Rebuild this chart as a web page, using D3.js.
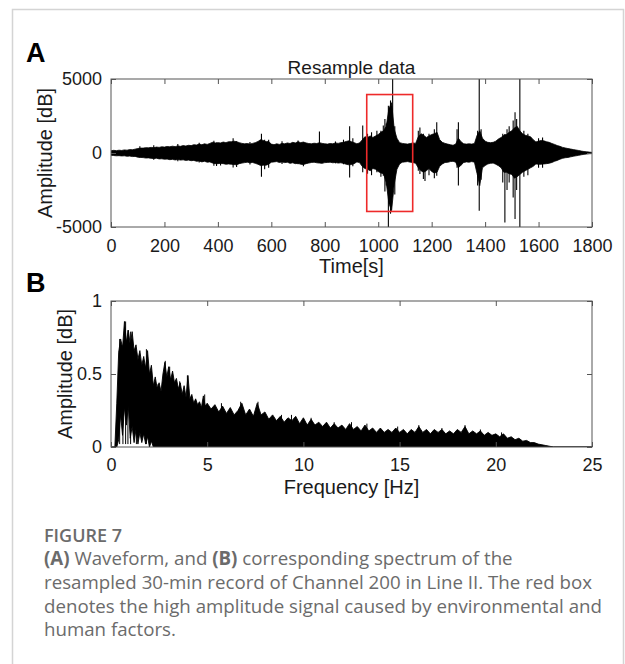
<!DOCTYPE html>
<html><head><meta charset="utf-8">
<script src="https://cdn.jsdelivr.net/npm/d3@7"></script>
<style>body{margin:0;background:#fff}svg{display:block}</style>
</head><body>
<svg id="c" width="625" height="664"></svg>
<script>
// ---------- DATA ----------
// Panel A: waveform envelope: [time s, upper, lower]
const waveEnvelope = [
[0,150,-150],[10,180,-170],[20,160,-190],[30,190,-180],[40,170,-200],[50,210,-190],[60,190,-220],[70,230,-210],[80,220,-240],[90,260,-230],
[100,300,-280],[110,330,-300],[120,330,-310],[130,360,-340],[140,350,-330],[150,380,-360],[160,360,-380],[170,400,-350],[180,380,-400],[190,420,-390],
[200,400,-420],[210,440,-410],[220,420,-450],[230,460,-430],[240,430,-470],[250,480,-440],[260,450,-480],[270,500,-460],[280,470,-500],[290,520,-480],
[300,500,-520],[310,560,-500],[320,540,-560],[330,600,-540],[340,560,-600],[350,620,-560],[360,580,-620],[370,650,-600],[380,720,-680],[390,680,-720],
[400,700,-720],[410,680,-700],[420,740,-720],[430,700,-760],[440,760,-740],[450,760,-760],[460,800,-780],[470,760,-800],[480,700,-720],[490,650,-680],
[500,620,-650],[510,640,-620],[520,600,-660],[530,650,-640],[540,700,-700],[550,780,-760],[560,900,-850],[570,850,-820],[580,760,-820],[590,780,-760],
[600,600,-620],[610,560,-600],[620,620,-580],[630,580,-640],[640,650,-600],[650,620,-650],[660,680,-620],[670,640,-700],[680,720,-660],[690,680,-720],
[700,760,-700],[710,700,-760],[720,740,-780],[730,680,-720],[740,640,-680],[750,620,-640],[760,660,-620],[770,640,-660],[780,700,-680],[790,650,-700],
[800,620,-650],[810,600,-640],[820,640,-620],[830,620,-660],[840,680,-640],[850,650,-680],[860,700,-660],[870,720,-700],[880,780,-760],[890,820,-800],
[900,760,-780],[910,700,-720],[920,620,-600],[930,680,-650],[940,880,-900],[950,1100,-1050],[960,1050,-1100],[970,1150,-1200],[980,1050,-1050],[990,1150,-1100],
[1000,1250,-1250],[1010,1400,-1350],[1020,1500,-1400],[1030,1800,-2000],[1040,3000,-3400],[1050,3400,-3900],[1060,1600,-2100],[1070,1000,-1100],[1080,700,-740],[1090,650,-620],
[1100,620,-600],[1110,600,-580],[1120,640,-620],[1130,680,-640],[1140,650,-700],[1150,1100,-1000],[1160,1300,-1200],[1170,1200,-1300],[1180,1050,-1200],[1190,1150,-1050],
[1200,1250,-1250],[1210,1300,-1350],[1220,1400,-1300],[1230,900,-900],[1240,720,-740],[1250,650,-640],[1260,600,-630],[1270,560,-580],[1280,520,-560],[1290,600,-620],
[1300,1000,-1000],[1310,760,-820],[1320,620,-640],[1330,600,-600],[1340,620,-620],[1350,600,-580],[1360,640,-620],[1370,1200,-1400],[1380,1500,-2200],[1390,1000,-1000],
[1400,800,-850],[1410,720,-740],[1420,700,-700],[1430,720,-680],[1440,800,-760],[1450,950,-860],[1460,1050,-1000],[1470,1200,-1300],[1480,1250,-1300],[1490,1400,-1400],
[1500,1500,-1450],[1510,1700,-1700],[1520,1800,-1600],[1530,1500,-1450],[1540,1300,-1300],[1550,1200,-1200],[1560,1150,-1100],[1570,1100,-1000],[1580,900,-900],[1590,750,-740],
[1600,800,-760],[1610,850,-760],[1620,820,-740],[1630,760,-720],[1640,720,-690],[1650,640,-640],[1660,580,-560],[1670,500,-500],[1680,450,-420],[1690,380,-360],
[1700,340,-320],[1710,300,-300],[1720,270,-260],[1730,230,-220],[1740,200,-190],[1750,170,-160],[1760,130,-120],[1770,100,-90],[1780,80,-70],[1790,60,-50],
[1800,40,-40]
];
// Thin spikes reaching beyond the envelope: [time s, low, high]
const waveSpikes = [
[108,-300,450],[160,-450,520],[250,-560,600],[330,-650,700],[385,-860,830],[395,-880,700],[410,-850,650],
[457,-980,1000],[470,-950,800],[520,-780,750],[563,-1600,1300],[575,-1100,900],[590,-1000,900],[640,-750,800],
[700,-760,850],[720,-900,700],[780,-600,1450],[840,-700,780],[870,-760,900],[893,-1650,1800],[905,-900,1000],
[942,-1300,1850],[960,-1400,1300],[975,-1500,1400],[995,-1300,1500],[1010,-1600,1500],[1019,-1530,1850],
[1025,-2600,2300],[1030,-2200,2000],[1038,-5000,3200],[1046,-4100,3550],[1054,-2000,5000],[1062,-2800,1800],
[1150,-1200,1500],[1156,-1420,1730],[1169,-1760,1300],[1175,-1900,1000],[1190,-1500,1300],[1210,-1700,1600],
[1219,-1530,2070],[1295,-1000,1600],[1300,-2200,2070],[1372,-2200,1500],[1378,-3900,5000],[1385,-1800,1600],
[1466,-2000,1300],[1474,-4700,1280],[1482,-2500,1600],[1490,-2000,1800],[1505,-3000,2200],[1512,-4460,2750],
[1518,-2500,2300],[1530,-5000,5000],[1545,-1600,1500],[1560,-1500,1300],[1600,-1000,1000],[1615,-1000,1050]
];
// Red box (time range, amplitude range)
const boxTime = [957, 1129];
const boxAmp = [-3950, 3950];
const waveXTicks = [0,200,400,600,800,1000,1200,1400,1600,1800];
const waveYTicks = [-5000,0,5000];
const waveYTickLabels = ["-5000","0","5000"];

// Panel B: spectrum envelope: [freq Hz, upper, lower]
const spectrum = [
[0,0,0],[0.1,0,0],[0.2,0,0],[0.3,0.30,0],[0.4,0.65,0.05],[0.5,0.74,0.22],[0.6,0.68,0.08],[0.7,0.86,0.27],[0.8,0.72,0.15],[0.9,0.80,0.28],
[1.0,0.70,0.06],[1.1,0.79,0.14],[1.2,0.66,0.03],[1.3,0.70,0.12],[1.4,0.60,0.02],[1.5,0.66,0.10],[1.6,0.56,0.03],[1.7,0.62,0.09],[1.8,0.54,0.02],[1.9,0.66,0.07],
[2.0,0.50,0],[2.1,0.56,0.04],[2.2,0.42,0],[2.3,0.48,0],[2.4,0.40,0],[2.5,0.44,0],[2.6,0.38,0],[2.7,0.50,0],[2.8,0.58,0],[2.9,0.48,0],
[3.0,0.55,0],[3.1,0.46,0],[3.2,0.52,0],[3.3,0.44,0],[3.4,0.47,0],[3.5,0.40,0],[3.6,0.44,0],[3.7,0.36,0],[3.8,0.42,0],[3.9,0.34,0],
[4.0,0.49,0],[4.1,0.33,0],[4.2,0.36,0],[4.3,0.30,0],[4.4,0.33,0],[4.5,0.29,0],[4.6,0.31,0],[4.7,0.27,0],[4.8,0.35,0],[4.9,0.28,0],
[5.0,0.30,0],[5.2,0.26,0],[5.4,0.29,0],[5.6,0.24,0],[5.8,0.28,0],[6.0,0.23,0],[6.2,0.27,0],[6.4,0.22,0],[6.6,0.25,0],[6.8,0.30,0],
[7.0,0.22,0],[7.2,0.26,0],[7.4,0.21,0],[7.6,0.30,0],[7.8,0.22,0],[8.0,0.24,0],[8.2,0.19,0],[8.4,0.22,0],[8.6,0.18,0],[8.8,0.21,0],
[9.0,0.17,0],[9.2,0.20,0],[9.4,0.18,0],[9.6,0.21,0],[9.8,0.16,0],[10.0,0.20,0],[10.2,0.15,0],[10.4,0.19,0],[10.6,0.15,0],[10.8,0.17,0],
[11.0,0.14,0],[11.2,0.17,0],[11.4,0.13,0],[11.6,0.16,0],[11.8,0.13,0],[12.0,0.15,0],[12.2,0.12,0],[12.4,0.16,0],[12.6,0.12,0],[12.8,0.14,0],
[13.0,0.11,0],[13.2,0.15,0],[13.4,0.11,0],[13.6,0.13,0],[13.8,0.10,0],[14.0,0.13,0],[14.2,0.10,0],[14.4,0.12,0],[14.6,0.10,0],[14.8,0.13,0],
[15.0,0.10,0],[15.2,0.12,0],[15.4,0.09,0],[15.6,0.12,0],[15.8,0.10,0],[16.0,0.14,0],[16.2,0.10,0],[16.4,0.12,0],[16.6,0.09,0],[16.8,0.12,0],
[17.0,0.10,0],[17.2,0.12,0],[17.4,0.09,0],[17.6,0.11,0],[17.8,0.09,0],[18.0,0.12,0],[18.2,0.10,0],[18.4,0.14,0],[18.6,0.09,0],[18.8,0.11,0],
[19.0,0.09,0],[19.2,0.11,0],[19.4,0.08,0],[19.6,0.10,0],[19.8,0.08,0],[20.0,0.09,0],[20.2,0.07,0],[20.4,0.09,0],[20.6,0.06,0],[20.8,0.07,0],
[21.0,0.05,0],[21.2,0.06,0],[21.4,0.04,0],[21.6,0.045,0],[21.8,0.03,0],[22.0,0.03,0],[22.2,0.02,0],[22.4,0.015,0],[22.6,0.01,0],[22.8,0.005,0],
[23.0,0,0],[25.0,0,0]
];
// Thin spectral peaks poking above the envelope: [freq Hz, value]
const specPeaks = [
[0.45,0.74],[0.62,0.70],[0.76,0.86],[0.88,0.80],[1.02,0.79],[1.32,0.64],[1.84,0.67],[2.44,0.43],[2.82,0.59],[3.05,0.55],
[3.57,0.45],[3.97,0.49],[4.87,0.36],[5.74,0.30],[6.74,0.31],[7.64,0.31],[8.86,0.22],[9.38,0.22],[10.4,0.20],[11.6,0.17],
[12.5,0.17],[13.3,0.16],[14.9,0.14],[16.0,0.15],[17.2,0.13],[18.4,0.15],[19.2,0.12],[20.3,0.10]
];
const specXTicks = [0,5,10,15,20,25];
const specYTicks = [0,0.5,1];
const specYTickLabels = ["0","0.5","1"];

const captionTitle = "FIGURE 7";
const captionLines = [
  [["(A)",true],[" Waveform, and ",false],["(B)",true],[" corresponding spectrum of the",false]],
  [["resampled 30-min record of Channel 200 in Line II. The red box",false]],
  [["denotes the high amplitude signal caused by environmental and",false]],
  [["human factors.",false]]
];

// ---------- DRAW ----------
const svg = d3.select("#c");
const FONT = "'Liberation Sans', Arial, Helvetica, sans-serif";
const AX = "#555";
const TXT = "#1a1a1a";

// outer frame
svg.append("path").attr("d","M12.5,700 V9.5 H623.5 V700")
  .attr("fill","none").attr("stroke","#d4d4d4").attr("stroke-width",1.5);

function panel(opts){
  const g = svg.append("g");
  const {x0,x1,y0,y1,xDom,yDom,xTicks,yTicks,yFmt,xPad,clipId} = opts;
  const x = d3.scaleLinear().domain(xDom).range([x0,x1]);
  const y = d3.scaleLinear().domain(yDom).range([y1,y0]);
  g.append("clipPath").attr("id",clipId).append("rect")
    .attr("x",x0).attr("y",y0).attr("width",x1-x0).attr("height",y1-y0);
  const plot = g.append("g").attr("clip-path",`url(#${clipId})`);
  const axG = g.append("g");
  const styleAxis = sel => {
    sel.select(".domain").remove();
    sel.selectAll(".tick line").attr("stroke",AX).attr("stroke-width",1);
    sel.selectAll("text").attr("fill",TXT).style("font-family",FONT).style("font-size","18px");
  };
  axG.append("g").attr("transform",`translate(0,${y1})`)
    .call(d3.axisBottom(x).tickValues(xTicks).tickSize(-5).tickPadding(xPad).tickFormat(d3.format("d")))
    .call(styleAxis);
  axG.append("g").attr("transform",`translate(0,${y0})`)
    .call(d3.axisTop(x).tickValues(xTicks).tickSize(-5).tickFormat(""))
    .call(styleAxis);
  axG.append("g").attr("transform",`translate(${x0},0)`)
    .call(d3.axisLeft(y).tickValues(yTicks).tickSize(-5).tickPadding(9).tickFormat(yFmt))
    .call(styleAxis);
  axG.append("g").attr("transform",`translate(${x1},0)`)
    .call(d3.axisRight(y).tickValues(yTicks).tickSize(-5).tickFormat(""))
    .call(styleAxis);
  axG.append("rect").attr("x",x0).attr("y",y0).attr("width",x1-x0).attr("height",y1-y0)
    .attr("fill","none").attr("stroke",AX).attr("stroke-width",1);
  return {x,y,plot,axG};
}

// ---- Panel A ----
const A = panel({x0:111,x1:592,y0:79,y1:227,xDom:[0,1800],yDom:[-5000,5000],
  xTicks:waveXTicks,yTicks:waveYTicks,yFmt:(d,i)=>waveYTickLabels[i],xPad:12,clipId:"clipA"});
A.plot.append("path").datum(waveEnvelope)
  .attr("d", d3.area().x(d=>A.x(d[0])).y0(d=>A.y(d[2])).y1(d=>A.y(d[1])))
  .attr("fill","#000");
A.plot.append("path").datum(waveEnvelope)
  .attr("d", d3.line().x(d=>A.x(d[0])).y(d=>A.y(d[1])))
  .attr("fill","none").attr("stroke","#000").attr("stroke-width",0.8);
A.plot.append("path").datum(waveEnvelope)
  .attr("d", d3.line().x(d=>A.x(d[0])).y(d=>A.y(d[2])))
  .attr("fill","none").attr("stroke","#000").attr("stroke-width",0.8);
A.plot.selectAll("line.spike").data(waveSpikes).join("line").attr("class","spike")
  .attr("x1",d=>A.x(d[0])).attr("x2",d=>A.x(d[0]))
  .attr("y1",d=>A.y(d[1])).attr("y2",d=>A.y(d[2]))
  .attr("stroke","#000").attr("stroke-width",1.1);
A.plot.append("rect")
  .attr("x",A.x(boxTime[0])).attr("y",A.y(boxAmp[1]))
  .attr("width",A.x(boxTime[1])-A.x(boxTime[0])).attr("height",A.y(boxAmp[0])-A.y(boxAmp[1]))
  .attr("fill","none").attr("stroke","#ee2a2a").attr("stroke-width",1.6);

svg.append("text").attr("x",351.5).attr("y",74).attr("text-anchor","middle")
  .style("font-family",FONT).style("font-size","19px").attr("fill",TXT).text("Resample data");
svg.append("text").attr("x",351.5).attr("y",273).attr("text-anchor","middle")
  .style("font-family",FONT).style("font-size","20px").attr("fill",TXT).text("Time[s]");
svg.append("text").attr("transform","translate(52,153) rotate(-90)").attr("text-anchor","middle")
  .style("font-family",FONT).style("font-size","20px").attr("fill",TXT).text("Amplitude [dB]");
svg.append("text").attr("x",26).attr("y",62)
  .style("font-family",FONT).style("font-size","27px").style("font-weight","bold").attr("fill","#000").text("A");

// ---- Panel B ----
const B = panel({x0:111,x1:592,y0:301,y1:447,xDom:[0,25],yDom:[0,1],
  xTicks:specXTicks,yTicks:specYTicks,yFmt:(d,i)=>specYTickLabels[i],xPad:11,clipId:"clipB"});
B.plot.append("path").datum(spectrum)
  .attr("d", d3.area().x(d=>B.x(d[0])).y0(d=>B.y(d[2])).y1(d=>B.y(d[1])))
  .attr("fill","#000");
B.plot.append("path").datum(spectrum)
  .attr("d", d3.line().x(d=>B.x(d[0])).y(d=>B.y(d[1])))
  .attr("fill","none").attr("stroke","#000").attr("stroke-width",0.9);
B.plot.append("path").datum(spectrum)
  .attr("d", d3.line().x(d=>B.x(d[0])).y(d=>B.y(d[2])))
  .attr("fill","none").attr("stroke","#000").attr("stroke-width",0.9);
B.plot.selectAll("line.peak").data(specPeaks).join("line").attr("class","peak")
  .attr("x1",d=>B.x(d[0])).attr("x2",d=>B.x(d[0]))
  .attr("y1",B.y(0.02)).attr("y2",d=>B.y(d[1]))
  .attr("stroke","#000").attr("stroke-width",1);

svg.append("text").attr("x",351.5).attr("y",494).attr("text-anchor","middle")
  .style("font-family",FONT).style("font-size","20px").attr("fill",TXT).text("Frequency [Hz]");
svg.append("text").attr("transform","translate(72,374) rotate(-90)").attr("text-anchor","middle")
  .style("font-family",FONT).style("font-size","20px").attr("fill",TXT).text("Amplitude [dB]");
svg.append("text").attr("x",26).attr("y",292)
  .style("font-family",FONT).style("font-size","27px").style("font-weight","bold").attr("fill","#000").text("B");

// ---- Caption ----
const CFONT = "'Open Sans', 'Noto Sans', sans-serif";
const CCOL = "#6b6b6b";
svg.append("text").attr("x",44).attr("y",542)
  .style("font-family",CFONT).style("font-size","18px").style("font-weight","600")
  .attr("fill",CCOL).text(captionTitle);
const capBase = [565,589,613,636];
const capTexts = captionLines.map((parts,i)=>{
  const t = svg.append("text").attr("x",44).attr("y",capBase[i])
    .style("font-family",CFONT).style("font-size","17px").attr("fill",CCOL);
  parts.forEach(p=>t.append("tspan").style("font-weight",p[1]?"700":"400").text(p[0]));
  return t;
});
// fit caption size so that the second line spans the measured width (~548px)
const w2 = capTexts[1].node().getComputedTextLength();
const fs = 17*548/w2;
capTexts.forEach(t=>t.style("font-size",fs.toFixed(2)+"px"));
</script>
</body></html>
